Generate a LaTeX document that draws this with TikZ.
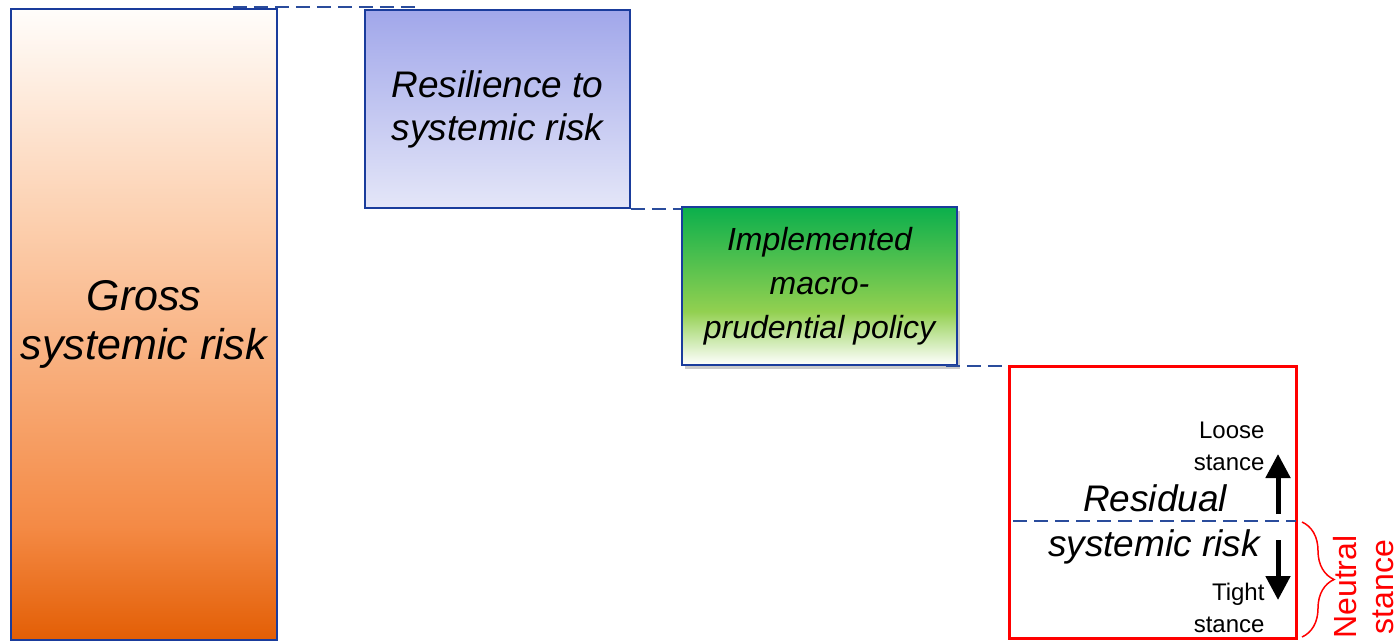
\documentclass[tikz,border=0pt]{standalone}
\usepackage{fontspec}
\setmainfont{Liberation Sans}
\usetikzlibrary{shadows,decorations.pathreplacing,arrows.meta}
\definecolor{boxblue}{HTML}{1A3C9C}
\definecolor{dashblue}{HTML}{2A4C9C}
\definecolor{or1}{HTML}{E35E05}
\definecolor{or2}{HTML}{F48A45}
\definecolor{or3}{HTML}{FCCFAE}
\definecolor{or4}{HTML}{FFFDFB}
\definecolor{bl1}{HTML}{E4E6F8}
\definecolor{bl2}{HTML}{A1A7EA}
\definecolor{gr1}{HTML}{FFFFFF}
\definecolor{gr2}{HTML}{92D050}
\definecolor{gr3}{HTML}{0BAF4C}
\definecolor{resred}{HTML}{FF0000}
\pgfdeclareverticalshading{orangeshade}{100bp}{color(0bp)=(or1); color(25bp)=(or1); color(34bp)=(or2); color(58bp)=(or3); color(75bp)=(or4); color(100bp)=(or4)}
\pgfdeclareverticalshading{blueshade}{100bp}{color(0bp)=(bl1); color(25bp)=(bl1); color(75bp)=(bl2); color(100bp)=(bl2)}
\pgfdeclareverticalshading{greenshade}{100bp}{color(0bp)=(gr1); color(25bp)=(gr1); color(42bp)=(gr2); color(75bp)=(gr3); color(100bp)=(gr3)}
\tikzset{
  riskbox/.style={draw=boxblue, line width=1.6pt, inner sep=0pt, align=center, font=\itshape},
  dashline/.style={draw=dashblue, line width=1.8pt, dash pattern=on 14pt off 7pt},
  bigarrow/.style={line width=5pt, -{Triangle[width=24pt,length=24pt]}, draw=black},
  stancetext/.style={align=right, anchor=east, font=\fontsize{24}{32}\selectfont},
}
\begin{document}
\begin{tikzpicture}[x=1pt,y=-1pt]
\useasboundingbox (0,0) rectangle (1400,641);
% boxes
\node[riskbox, shading=orangeshade, minimum width=266pt, minimum height=631pt,
      font=\itshape\fontsize{43}{47}\selectfont] (gross) at (144,324.5) {Gross\\[2pt]systemic risk};
\node[riskbox, shading=blueshade, minimum width=265pt, minimum height=198pt,
      font=\itshape\fontsize{37}{43}\selectfont] (resil) at (497.5,109) {Resilience to\\systemic risk};
\node[riskbox, shading=greenshade, minimum width=275pt, minimum height=158pt,
      drop shadow={shadow xshift=3pt, shadow yshift=-4pt, opacity=0.35, fill=black!60},
      font=\itshape\fontsize{32}{44}\selectfont] (impl) at (819.5,286) {Implemented\\macro-\\prudential policy};
\node[draw=resred, line width=3pt, fill=white, minimum width=287pt, minimum height=272pt, inner sep=0pt] (resid) at (1152.5,502) {};
% dashed connectors
\draw[dashline] ([xshift=-45pt,yshift=1pt]gross.north east) -- ([xshift=57pt,yshift=2pt]resil.north west);
\draw[dashline] (resil.south east) -- (resil.south east -| impl.west);
\draw[dashline] ([xshift=-12pt]impl.south east) -- (impl.south east -| resid.west);
\coordinate (neutL) at (1013,521);
\coordinate (neutR) at (1296,521);
\draw[dashline] (neutL) -- (neutR);
% residual texts
\node[font=\itshape\fontsize{37}{40}\selectfont, anchor=base] (residT) at (1155,511) {Residual};
\node[font=\itshape\fontsize{37}{40}\selectfont, anchor=base] (systT) at (1154,556) {systemic risk};
\node[stancetext] (loose) at (1268,446) {Loose\\stance};
\node[stancetext] (tight) at (1268,608) {Tight\\stance};
% arrows
\coordinate (upS) at (1278,514);
\coordinate (upE) at (1278,454);
\coordinate (dnS) at (1278,540);
\coordinate (dnE) at (1278,600);
\draw[bigarrow] (upS) -- (upE);
\draw[bigarrow] (dnS) -- (dnE);
% brace
\coordinate (brT) at (1302,522);
\coordinate (brB) at (1302,637);
\draw[resred, line width=1.5pt, decorate, decoration={brace, amplitude=32pt}] (brT) -- (brB);
\node[text=resred, rotate=90, align=center, font=\fontsize{32}{37}\selectfont] (neutral) at (1364,587) {Neutral\\stance};
\end{tikzpicture}
\end{document}
